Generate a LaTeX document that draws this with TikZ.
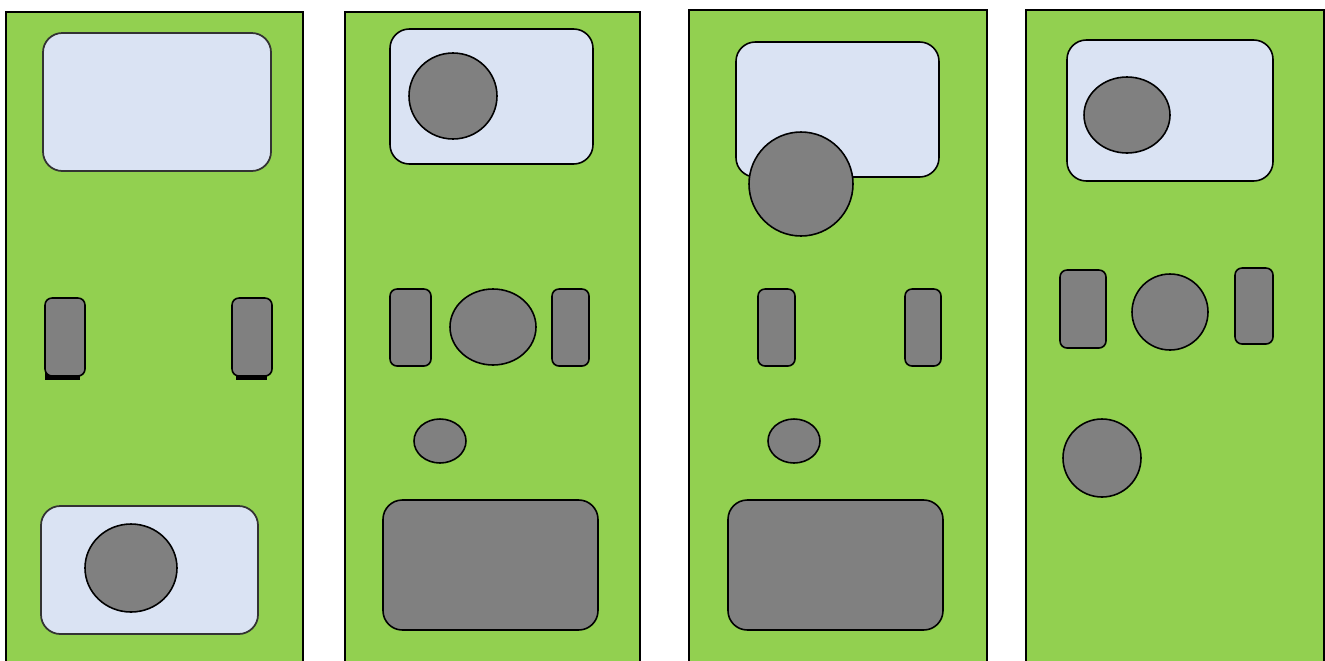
\documentclass[tikz,border=0pt]{standalone}
\definecolor{panelgreen}{HTML}{92D050}
\definecolor{lightblue}{HTML}{DAE3F3}
\definecolor{shapegray}{HTML}{808080}
\tikzset{
  panel/.style={fill=panelgreen, draw=black, line width=0.9pt},
  window/.style={fill=lightblue, draw=black, line width=0.9pt, rounded corners=11pt},
  windowold/.style={fill=lightblue, draw=black!80, line width=1pt, rounded corners=11pt},
  grayrect/.style={fill=shapegray, draw=black, line width=0.9pt, rounded corners=4pt},
  bigrect/.style={fill=shapegray, draw=black, line width=0.9pt, rounded corners=11pt},
  grayell/.style={fill=shapegray, draw=black, line width=0.9pt},
}
\begin{document}
\begin{tikzpicture}[x=0.02cm,y=-0.02cm]
\useasboundingbox (0,0) rectangle (1325,660);
\clip (0,0) rectangle (1325,660);
% panel 1
\draw[panel] (6,12) rectangle (303,668);
\draw[windowold] (43,33) rectangle (271,171);
\fill[black] (45,372) rectangle (80,380);
\fill[black] (236,372) rectangle (267,380);
\draw[grayrect] (45,298) rectangle (85,376);
\draw[grayrect] (232,298) rectangle (272,376);
\draw[windowold] (41,506) rectangle (258,634);
\draw[grayell] (131,568) ellipse [x radius=46, y radius=44];
% panel 2
\draw[panel] (345,12) rectangle (640,668);
\draw[window] (390,29) rectangle (593,164);
\draw[grayell] (453,96) ellipse [x radius=44, y radius=43];
\draw[grayrect] (390,289) rectangle (431,366);
\draw[grayell] (493,327) ellipse [x radius=43, y radius=38];
\draw[grayrect] (552,289) rectangle (589,366);
\draw[grayell] (440,441) ellipse [x radius=26, y radius=22];
\draw[bigrect] (383,500) rectangle (598,630);
% panel 3
\draw[panel] (689,10) rectangle (987,668);
\draw[window] (736,42) rectangle (939,177);
\draw[grayell] (801,184) circle [radius=52];
\draw[grayrect] (758,289) rectangle (795,366);
\draw[grayrect] (905,289) rectangle (941,366);
\draw[grayell] (794,441) ellipse [x radius=26, y radius=22];
\draw[bigrect] (728,500) rectangle (943,630);
% panel 4
\draw[panel] (1026,10) rectangle (1324,668);
\draw[window] (1067,40) rectangle (1273,181);
\draw[grayell] (1127,115) ellipse [x radius=43, y radius=38];
\draw[grayrect] (1060,270) rectangle (1106,348);
\draw[grayell] (1170,312) circle [radius=38];
\draw[grayrect] (1235,268) rectangle (1273,344);
\draw[grayell] (1102,458) ellipse [x radius=39, y radius=39];
\end{tikzpicture}
\end{document}
